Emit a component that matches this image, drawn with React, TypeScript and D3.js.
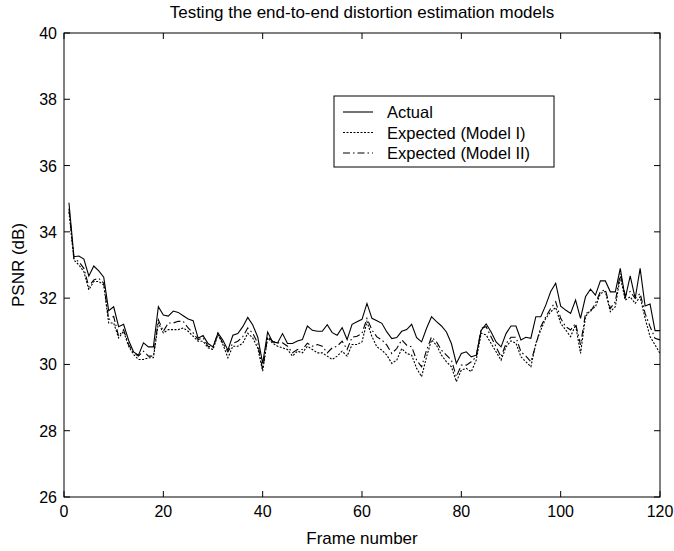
import React from "react";
import * as d3 from "d3";

const frames: number[] = Array.from({ length: 120 }, (_, i) => i + 1);

const actual: number[] = [
  34.88, 33.25, 33.27, 33.18, 32.67, 32.97, 32.82, 32.63, 31.62, 31.74,
  31.14, 31.21, 30.73, 30.38, 30.28, 30.65, 30.53, 30.53, 31.74, 31.49,
  31.46, 31.61, 31.57, 31.47, 31.37, 31.32, 30.79, 30.87, 30.63, 30.53,
  30.95, 30.73, 30.43, 30.88, 30.93, 31.14, 31.42, 31.19, 30.83, 30.03,
  30.98, 30.68, 30.65, 30.93, 30.63, 30.63, 30.71, 30.75, 31.16, 31.03,
  31.0, 31.0, 31.2, 30.96, 30.88, 31.11, 30.75, 31.21, 31.29, 31.36,
  31.84, 31.39, 31.32, 31.24, 30.98, 30.78, 30.81, 31.0, 31.05, 31.21,
  30.81, 30.68, 31.09, 31.44, 31.29, 31.16, 30.98, 30.63, 30.03, 30.33,
  30.38, 30.23, 30.28, 31.03, 31.22, 30.98, 30.68, 30.53, 30.93, 31.16,
  31.16, 30.74, 30.82, 30.79, 31.44, 31.44, 31.79, 32.2, 32.45, 31.76,
  31.64, 31.54, 31.94, 31.39, 32.04, 32.27, 32.09, 32.52, 32.52, 32.19,
  32.19, 32.9, 31.99, 32.67, 31.99, 32.9, 31.76, 31.82, 31.02, 31.02,
];

const modelI: number[] = [
  34.6, 33.15, 33.0, 32.8, 32.25, 32.5, 32.5, 32.4, 31.25, 31.25,
  30.8, 31.0, 30.55, 30.3, 30.15, 30.15, 30.2, 30.2, 31.25, 30.95,
  31.05, 31.05, 31.05, 31.1, 31.0, 30.85, 30.7, 30.7, 30.5, 30.45,
  30.9, 30.6, 30.2, 30.55, 30.55, 30.64, 30.94, 30.8, 30.5, 29.8,
  30.8, 30.64, 30.55, 30.5, 30.45, 30.25, 30.4, 30.35, 30.55, 30.45,
  30.35, 30.35, 30.25, 30.15, 30.25, 30.4, 30.25, 30.6, 30.6, 30.68,
  31.29, 30.84, 30.53, 30.43, 30.28, 30.03, 30.13, 30.48, 30.33, 30.28,
  29.88, 29.63, 30.23, 30.74, 30.58, 30.28, 30.08, 29.93, 29.48, 29.83,
  29.88, 29.78, 30.13, 30.94, 30.89, 30.63, 30.38, 30.13, 30.53, 30.71,
  30.64, 30.23, 30.08, 29.93, 30.64, 31.04, 31.39, 31.59, 31.72, 31.24,
  31.04, 30.84, 31.19, 30.33, 31.44, 31.64, 31.74, 32.14, 32.2, 31.59,
  31.74, 32.65, 31.94, 32.04, 31.84, 32.04, 31.39, 30.84, 30.59, 30.33,
];

const modelII: number[] = [
  34.7, 33.2, 33.1, 32.9, 32.35, 32.55, 32.6, 32.45, 31.35, 31.45,
  30.85, 31.05, 30.6, 30.35, 30.25, 30.4, 30.25, 30.25, 31.35, 31.0,
  31.25, 31.25, 31.3, 31.3, 31.1, 30.95, 30.75, 30.8, 30.55, 30.5,
  30.94, 30.64, 30.38, 30.64, 30.7, 30.84, 31.1, 30.94, 30.64, 29.84,
  30.84, 30.7, 30.65, 30.65, 30.55, 30.35, 30.45, 30.45, 30.64, 30.55,
  30.6, 30.55, 30.35, 30.5, 30.55, 30.7, 30.45, 30.82, 30.85, 30.94,
  31.39, 31.04, 30.83, 30.74, 30.58, 30.33, 30.48, 30.74, 30.58, 30.53,
  30.13, 29.93, 30.43, 30.83, 30.68, 30.43, 30.28, 30.13, 29.63, 29.98,
  29.98, 30.08, 30.23, 31.09, 31.14, 30.83, 30.53, 30.23, 30.63, 30.82,
  30.82, 30.38, 30.25, 30.08, 30.59, 31.14, 31.44, 31.69, 31.89, 31.39,
  31.14, 31.04, 31.24, 30.59, 31.54, 31.59, 31.84, 32.2, 32.25, 31.69,
  31.89, 32.75, 32.09, 32.2, 31.99, 32.14, 31.54, 31.14, 30.79, 30.74,
];

const xTicks: number[] = [0, 20, 40, 60, 80, 100, 120];
const yTicks: number[] = [26, 28, 30, 32, 34, 36, 38, 40];

const legendLabels: string[] = ["Actual", "Expected (Model I)", "Expected (Model II)"];
const dashes: string[] = ["none", "2,1.5", "7,3,1.5,3"];

const W = 674;
const H = 551;
const M = { left: 64, right: 660, top: 33, bottom: 497 };
const FONT = "'Liberation Sans', Arial, Helvetica, sans-serif";

export default function App() {
  const x = d3.scaleLinear().domain([0, 120]).range([M.left, M.right]);
  const y = d3.scaleLinear().domain([26, 40]).range([M.bottom, M.top]);
  const line = d3
    .line<number>()
    .x((_, i) => x(frames[i]))
    .y((d) => y(d));

  const series = [actual, modelI, modelII];
  const tl = 6;

  return (
    <svg
      width={W}
      height={H}
      style={{ position: "absolute", left: 0, top: 0, background: "#fff" }}
      fontFamily={FONT}
    >
      <rect x={0} y={0} width={W} height={H} fill="#fff" />
      <defs>
        <clipPath id="plotclip">
          <rect x={M.left} y={M.top} width={M.right - M.left} height={M.bottom - M.top} />
        </clipPath>
      </defs>
      <g clipPath="url(#plotclip)">
        {series.map((s, k) => (
          <path
            key={k}
            d={line(s) || ""}
            fill="none"
            stroke="#000"
            strokeWidth={1.1}
            strokeDasharray={dashes[k]}
          />
        ))}
      </g>
      <rect
        x={M.left}
        y={M.top}
        width={M.right - M.left}
        height={M.bottom - M.top}
        fill="none"
        stroke="#000"
        strokeWidth={1}
      />
      {xTicks.map((t) => (
        <g key={"x" + t}>
          <line x1={x(t)} x2={x(t)} y1={M.bottom} y2={M.bottom - tl} stroke="#000" />
          <line x1={x(t)} x2={x(t)} y1={M.top} y2={M.top + tl} stroke="#000" />
          <text x={x(t)} y={M.bottom + 20} fontSize={16} textAnchor="middle">
            {t}
          </text>
        </g>
      ))}
      {yTicks.map((t) => (
        <g key={"y" + t}>
          <line x1={M.left} x2={M.left + tl} y1={y(t)} y2={y(t)} stroke="#000" />
          <line x1={M.right} x2={M.right - tl} y1={y(t)} y2={y(t)} stroke="#000" />
          <text x={M.left - 7} y={y(t) + 6} fontSize={16} textAnchor="end">
            {t}
          </text>
        </g>
      ))}
      <text x={(M.left + M.right) / 2} y={18} fontSize={17} textAnchor="middle">
        Testing the end-to-end distortion estimation models
      </text>
      <text x={(M.left + M.right) / 2} y={544} fontSize={17} textAnchor="middle">
        Frame number
      </text>
      <text
        transform={`translate(24, ${(M.top + M.bottom) / 2}) rotate(-90)`}
        fontSize={17}
        textAnchor="middle"
      >
        PSNR (dB)
      </text>
      <g>
        <rect x={334} y={96} width={220} height={71} fill="#fff" stroke="#000" strokeWidth={1} />
        {legendLabels.map((lab, k) => (
          <g key={lab}>
            <line
              x1={343}
              x2={373}
              y1={112 + k * 20.5}
              y2={112 + k * 20.5}
              stroke="#000"
              strokeWidth={1.1}
              strokeDasharray={dashes[k]}
            />
            <text x={387} y={118 + k * 20.5} fontSize={16.5}>
              {lab}
            </text>
          </g>
        ))}
      </g>
    </svg>
  );
}
